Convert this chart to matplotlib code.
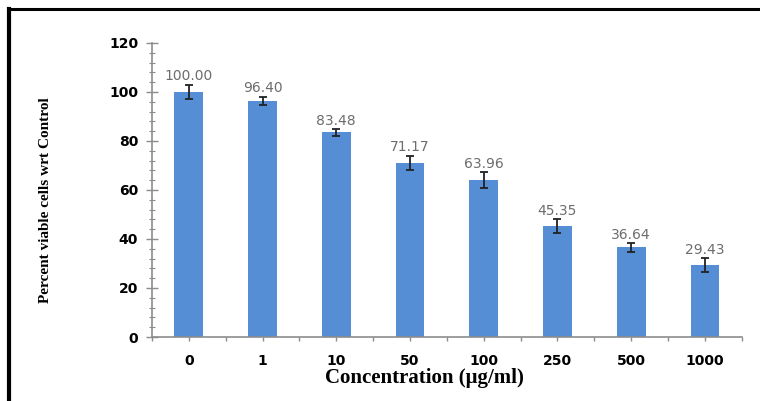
import matplotlib.pyplot as plt
from matplotlib.lines import Line2D
from matplotlib.ticker import MultipleLocator, FixedLocator

# data
concentrations = ['0', '1', '10', '50', '100', '250', '500', '1000']
viability = [100.00, 96.40, 83.48, 71.17, 63.96, 45.35, 36.64, 29.43]
errors = [3.0, 1.7, 1.5, 2.9, 3.3, 2.8, 1.8, 2.8]

fig = plt.figure(figsize=(7.6, 4.01), dpi=100)
ax = fig.add_axes([0.2, 0.1596, 0.776, 0.7332])

x = list(range(len(concentrations)))
ax.bar(x, viability, width=0.39, color='#558ed5', zorder=2)
ax.errorbar(x, viability, yerr=errors, fmt='none', ecolor='#222222',
            elinewidth=1.3, capsize=3, capthick=1.3, zorder=3)

for xi, v, e in zip(x, viability, errors):
    ax.text(xi, v + e + 0.5, f'{v:.2f}', ha='center', va='bottom',
            fontsize=10, color='#6d6d6d')

ax.set_xlim(-0.5, len(concentrations) - 0.5)
ax.set_ylim(0, 120)
ax.yaxis.set_major_locator(MultipleLocator(20))
ax.yaxis.set_minor_locator(MultipleLocator(4))
ax.xaxis.set_major_locator(FixedLocator([i - 0.5 for i in range(len(concentrations) + 1)]))
ax.xaxis.set_minor_locator(FixedLocator(x))
ax.set_xticklabels([])
ax.set_xticklabels(concentrations, minor=True)

for s in ['top', 'right']:
    ax.spines[s].set_visible(False)
for s in ['left', 'bottom']:
    ax.spines[s].set_color('#8c8c8c')
    ax.spines[s].set_linewidth(1.2)

ax.tick_params(axis='y', which='major', direction='inout', length=8,
               color='#8c8c8c', width=1.0, labelsize=10, pad=6)
ax.tick_params(axis='y', which='minor', direction='inout', length=5,
               color='#8c8c8c', width=0.8)
ax.tick_params(axis='x', which='both', direction='out', length=3,
               color='#8c8c8c', width=1.0)
ax.tick_params(axis='x', which='minor', labelsize=10, pad=9)
for lab in ax.get_yticklabels() + ax.get_xticklabels(minor=True):
    lab.set_fontweight('bold')
    lab.set_fontfamily('DejaVu Sans')

fig.text(0.06, 0.5, 'Percent viable cells wrt Control', rotation=90,
         ha='center', va='center', fontsize=11, fontweight='bold',
         family='Liberation Serif')
fig.text(0.559, 0.057, 'Concentration (\u03bcg/ml)', ha='center', va='center',
         fontsize=15, fontweight='bold', family='Liberation Serif')

# frame around the picture (only top and left visible)
fig.add_artist(Line2D([0.012, 1.0], [0.977, 0.977], color='black', linewidth=2.2,
                      transform=fig.transFigure))
fig.add_artist(Line2D([0.012, 0.012], [0.0, 0.977], color='black', linewidth=3,
                      transform=fig.transFigure))

fig.savefig('out.png', dpi=100)
